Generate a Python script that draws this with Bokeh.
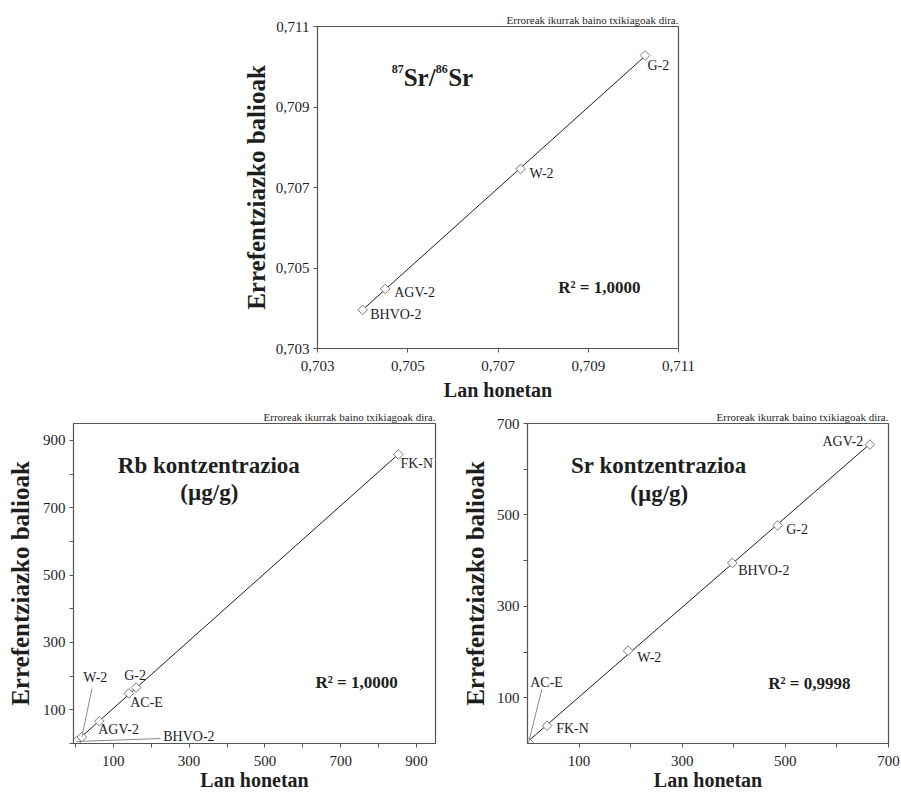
import numpy as np
from bokeh.plotting import figure
from bokeh.models import FixedTicker, CustomJSTickFormatter, Label, Range1d
from bokeh.layouts import column, row
from bokeh.embed import file_html
from bokeh.resources import INLINE

FONT = "Liberation Serif"
INK = "#1e1e1e"
AXC = "#555555"

# ---------------- data ----------------
ratio_samples = ["BHVO-2", "AGV-2", "W-2", "G-2"]
ratio_measured = [0.70400, 0.70450, 0.70750, 0.71026]
ratio_reference = [0.70396, 0.70448, 0.70746, 0.71028]
ratio_ticks = [0.703, 0.705, 0.707, 0.709, 0.711]

rb_samples = ["BHVO-2", "W-2", "AGV-2", "AC-E", "G-2", "FK-N"]
rb_measured = [3, 17, 63, 141, 160, 852]
rb_reference = [6, 19, 66, 149, 166, 858]
rb_major_ticks = [100, 300, 500, 700, 900]
rb_minor_ticks = [0, 200, 400, 600, 800]

sr_samples = ["AC-E", "FK-N", "W-2", "BHVO-2", "G-2", "AGV-2"]
sr_measured = [2, 38, 195, 397, 485, 664]
sr_reference = [2, 39, 203, 395, 477, 654]
sr_major_ticks = [100, 300, 500, 700]
sr_minor_ticks = [200, 400, 600]

r2_ratio = "R² = 1,0000"
r2_rb = "R² = 1,0000"
r2_sr = "R² = 0,9998"
note_text = "Erroreak ikurrak baino txikiagoak dira."
x_title = "Lan honetan"
y_title = "Errefentziazko balioak"


def base_fig(width, height, xr, yr, borders, ticks, minor, fmt_code, ylab_standoff,
             xlab_size, xlab_standoff):
    l, r, t, b = borders
    p = figure(width=width, height=height, x_range=Range1d(*xr), y_range=Range1d(*yr),
               output_backend="svg", toolbar_location=None,
               min_border_left=l, min_border_right=r, min_border_top=t, min_border_bottom=b)
    p.grid.visible = False
    p.outline_line_color = AXC
    p.outline_line_width = 1.2
    p.background_fill_color = "white"
    p.border_fill_color = "white"
    for ax in (p.xaxis[0], p.yaxis[0]):
        ax.ticker = FixedTicker(ticks=ticks, minor_ticks=minor)
        ax.formatter = CustomJSTickFormatter(code=fmt_code)
        ax.axis_line_color = AXC
        ax.major_tick_line_color = AXC
        ax.minor_tick_line_color = AXC
        ax.major_tick_in = 0
        ax.major_tick_out = 4
        ax.minor_tick_in = 0
        ax.minor_tick_out = 4
        ax.major_label_text_font = FONT
        ax.major_label_text_font_size = "15px"
        ax.major_label_text_color = INK
        ax.axis_label_text_font = FONT
        ax.axis_label_text_font_style = "bold"
        ax.axis_label_text_color = INK
    p.xaxis.major_label_standoff = 8
    p.yaxis.major_label_standoff = 4
    p.xaxis.axis_label = x_title
    p.xaxis.axis_label_text_font_size = xlab_size
    p.xaxis.axis_label_standoff = xlab_standoff
    p.yaxis.axis_label = y_title
    p.yaxis.axis_label_text_font_size = "25px"
    p.yaxis.axis_label_standoff = ylab_standoff
    p.title.text = note_text
    p.title.align = "right"
    p.title.text_font = FONT
    p.title.text_font_style = "normal"
    p.title.text_font_size = "11px"
    p.title.text_color = INK
    p.title.standoff = 2
    return p


def add_points(p, xs, ys):
    xs = np.asarray(xs, float)
    ys = np.asarray(ys, float)
    k, c = np.polyfit(xs, ys, 1)
    lx = np.array([xs.min(), xs.max()])
    p.line(lx, k * lx + c, line_color=INK, line_width=1)
    p.scatter(xs, ys, marker="square", angle=np.pi / 4, size=6.8,
              fill_color="white", line_color="#7a7a7a", line_width=1)


def txt(p, x, y, text, size="14px", bold=False, align="left", baseline="middle"):
    p.add_layout(Label(x=x, y=y, text=text, text_font=FONT, text_font_size=size,
                       text_font_style="bold" if bold else "normal", text_color=INK,
                       text_align=align, text_baseline=baseline))


# ---------------- top: 87Sr/86Sr ----------------
p1 = base_fig(901, 403, (0.703, 0.711), (0.703, 0.711), (317, 223, 26, 55),
              ratio_ticks, [], "return tick.toFixed(3).replace('.', ',');", 3, "20px", 5)
add_points(p1, ratio_measured, ratio_reference)
fx1 = lambda px: 0.703 + (px - 317.3) / 361.0 * 0.008
fy1 = lambda py: 0.703 + (348.0 - py) / 322.0 * 0.008
lab1 = {"BHVO-2": (370, 314), "AGV-2": (394, 291.7), "W-2": (529.3, 173.3), "G-2": (647.3, 65)}
for s in ratio_samples:
    px, py = lab1[s]
    txt(p1, fx1(px), fy1(py), s)
txt(p1, fx1(391.5), fy1(68.5), "87", size="12px", bold=True, baseline="alphabetic")
txt(p1, fx1(403.5), fy1(77), "Sr/", size="25px", bold=True, baseline="alphabetic")
txt(p1, fx1(435.5), fy1(68.5), "86", size="12px", bold=True, baseline="alphabetic")
txt(p1, fx1(448), fy1(77), "Sr", size="25px", bold=True, baseline="alphabetic")
txt(p1, fx1(558), fy1(287), r2_ratio, size="17px", bold=True)

# ---------------- bottom left: Rb ----------------
int_fmt = "return String(tick);"
p2 = base_fig(450, 390, (-5, 950), (0, 950), (73, 15, 20, 50),
              rb_major_ticks, rb_minor_ticks, int_fmt, 6, "20px", 0)
add_points(p2, rb_measured, rb_reference)
fx2 = lambda px: -5 + (px - 73.3) / 361.7 * 955
fy2 = lambda py: (744.0 - py) / 321.3 * 950
lab2 = {"W-2": (83, 678), "G-2": (124, 676), "AC-E": (130, 702.7), "AGV-2": (98, 730),
        "BHVO-2": (163, 737), "FK-N": (400, 463)}
for s in rb_samples:
    px, py = lab2[s]
    txt(p2, fx2(px), fy2(py), s)
i_w = rb_samples.index("W-2")
i_b = rb_samples.index("BHVO-2")
p2.segment(x0=[fx2(91.7), fx2(160)], y0=[fy2(689), fy2(739)],
           x1=[rb_measured[i_w], rb_measured[i_b]], y1=[rb_reference[i_w], rb_reference[i_b]],
           line_color="#8a8a8a", line_width=1)
txt(p2, fx2(208.5), fy2(465), "Rb kontzentrazioa", size="23px", bold=True, align="center")
txt(p2, fx2(209), fy2(492), "(µg/g)", size="23px", bold=True, align="center")
txt(p2, fx2(315), fy2(683), r2_rb, size="17px", bold=True)

# ---------------- bottom right: Sr ----------------
p3 = base_fig(451, 390, (0, 700), (0, 700), (77, 13, 20, 50),
              sr_major_ticks, sr_minor_ticks, int_fmt, 5, "20px", 0)
add_points(p3, sr_measured, sr_reference)
fx3 = lambda px: (px - 527.3) / 361.0 * 700
fy3 = lambda py: (744.0 - py) / 321.3 * 700
lab3 = {"AC-E": (530, 682.7), "FK-N": (556, 729), "W-2": (637, 658),
        "BHVO-2": (738, 570.7), "G-2": (786, 529)}
for s in sr_samples:
    if s in lab3:
        px, py = lab3[s]
        txt(p3, fx3(px), fy3(py), s)
txt(p3, fx3(863), fy3(440.7), "AGV-2", align="right")
i_a = sr_samples.index("AC-E")
p3.segment(x0=[fx3(541.7)], y0=[fy3(689.3)], x1=[sr_measured[i_a]], y1=[sr_reference[i_a]],
           line_color="#8a8a8a", line_width=1)
txt(p3, fx3(658.7), fy3(465), "Sr kontzentrazioa", size="23px", bold=True, align="center")
txt(p3, fx3(659), fy3(492.7), "(µg/g)", size="23px", bold=True, align="center")
txt(p3, fx3(768), fy3(684), r2_sr, size="17px", bold=True)

layout = column(p1, row(p2, p3))
open("out.html", "w").write(file_html(layout, INLINE))
